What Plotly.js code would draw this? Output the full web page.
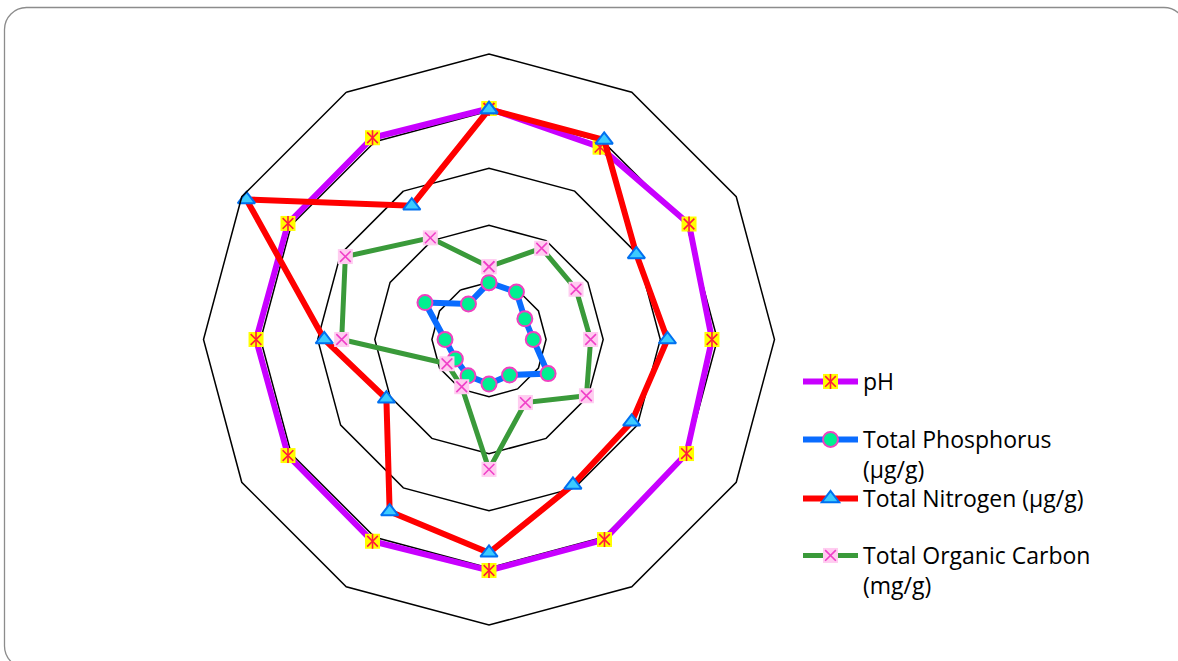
<!DOCTYPE html>
<html>
<head>
<meta charset="utf-8">
<script src="https://cdn.plot.ly/plotly-3.0.1.min.js"></script>
<style>
  html, body { margin: 0; padding: 0; background: #fff; }
  #chart { width: 1178px; height: 661px; }
</style>
</head>
<body>
<div id="chart"></div>
<script>
// ---- data (radial scale 0-10) ----
const categories = ['1','2','3','4','5','6','7','8','9','10','11','12'];
const seriesNames = ['pH', 'Total Phosphorus<br>(µg/g)', 'Total Nitrogen (µg/g)', 'Total Organic Carbon<br>(mg/g)'];
const pH          = [8.09, 7.78, 8.09, 7.81, 7.99, 8.09, 8.09, 8.16, 8.13, 8.16, 8.13, 8.16];
const phosphorus  = [1.99, 1.92, 1.45, 1.55, 2.39, 1.44, 1.56, 1.47, 1.36, 1.54, 2.59, 1.44];
const nitrogen    = [8.06, 8.07, 5.96, 6.25, 5.77, 5.88, 7.47, 6.96, 4.15, 5.77, 9.81, 5.41];
const organicC    = [2.55, 3.69, 3.52, 3.56, 3.94, 2.55, 4.55, 1.91, 1.70, 5.16, 5.81, 4.11];
const gridValues  = [0, 2, 4, 6, 8, 10];

const close = a => a.concat([a[0]]);
const theta = close(categories);

const W = 1178, H = 661, MT = 54, MB = 36;
const PH = H - MT - MB;
const px = x => x / W;
const py = y => (H - MB - y) / PH;

const traces = [
  {
    type: 'scatterpolar', mode: 'lines+markers', name: seriesNames[0], legend: 'legend',
    r: close(pH), theta: theta,
    line: { color: '#C800FF', width: 6 },
    marker: { symbol: 'square', size: 15, color: '#FFFF00', line: { width: 0 } }
  },
  {
    type: 'scatterpolar', mode: 'markers', name: seriesNames[0], legend: 'legend5', hoverinfo: 'skip',
    r: close(pH), theta: theta,
    marker: { symbol: 'x-thin-open', size: 10.7, color: '#FF1A3C', line: { color: '#FF1A3C', width: 1.6 } }
  },
  {
    type: 'scatterpolar', mode: 'markers', name: seriesNames[0], legend: 'legend6', hoverinfo: 'skip',
    r: close(pH), theta: theta,
    marker: { symbol: 'line-ns-open', size: 10.7, color: '#FF1A3C', line: { color: '#FF1A3C', width: 1.6 } }
  },
  {
    type: 'scatterpolar', mode: 'lines+markers', name: seriesNames[1], legend: 'legend2',
    r: close(phosphorus), theta: theta,
    line: { color: '#0A6CFF', width: 6 },
    marker: { symbol: 'circle', size: 15, color: '#00F090', line: { color: '#F040C0', width: 2 } }
  },
  {
    type: 'scatterpolar', mode: 'lines+markers', name: seriesNames[2], legend: 'legend3',
    r: close(nitrogen), theta: theta,
    line: { color: '#FF0000', width: 6 },
    marker: { symbol: 'triangle-up', size: 15, color: '#3CCBFF', line: { color: '#0070F0', width: 2 } }
  },
  {
    type: 'scatterpolar', mode: 'lines+markers', name: seriesNames[3], legend: 'legend4',
    r: close(organicC), theta: theta,
    line: { color: '#3A9A3A', width: 5 },
    marker: { symbol: 'square', size: 15, color: '#FFCCF0', line: { width: 0 } }
  },
  {
    type: 'scatterpolar', mode: 'markers', name: seriesNames[3], legend: 'legend7', hoverinfo: 'skip',
    r: close(organicC), theta: theta,
    marker: { symbol: 'x-thin-open', size: 10.7, color: '#F040C8', line: { color: '#F040C8', width: 1.6 } }
  }
];

// rounded frame
const fx0 = 4.5, fy0 = 7.5, fx1 = 1186, fy1 = 668, rr = 22, k = rr * 0.45;
const pt = (x, y) => px(x) + ',' + py(y);
const framePath =
  'M' + pt(fx0 + rr, fy0) + ' L' + pt(fx1 - rr, fy0) +
  ' C' + pt(fx1 - k, fy0) + ' ' + pt(fx1, fy0 + k) + ' ' + pt(fx1, fy0 + rr) +
  ' L' + pt(fx1, fy1 - rr) +
  ' C' + pt(fx1, fy1 - k) + ' ' + pt(fx1 - k, fy1) + ' ' + pt(fx1 - rr, fy1) +
  ' L' + pt(fx0 + rr, fy1) +
  ' C' + pt(fx0 + k, fy1) + ' ' + pt(fx0, fy1 - k) + ' ' + pt(fx0, fy1 - rr) +
  ' L' + pt(fx0, fy0 + rr) +
  ' C' + pt(fx0, fy0 + k) + ' ' + pt(fx0 + k, fy0) + ' ' + pt(fx0 + rr, fy0) + ' Z';

const mkLegend = (textCenterY, hidden) => ({
  x: px(798), xanchor: 'left', y: py(textCenterY - 20), yanchor: 'top',
  bgcolor: 'rgba(0,0,0,0)', borderwidth: 0, valign: 'top', itemwidth: 55,
  font: { family: 'Open Sans, sans-serif', size: 23, color: hidden ? 'rgba(0,0,0,0)' : '#000' }
});

const layout = {
  width: W, height: H,
  margin: { l: 0, r: 0, t: MT, b: MB, pad: 0 },
  paper_bgcolor: '#fff',
  showlegend: true,
  legend: mkLegend(380),
  legend2: mkLegend(438),
  legend3: mkLegend(497),
  legend4: mkLegend(554),
  legend5: mkLegend(380, true),
  legend6: mkLegend(380, true),
  legend7: mkLegend(554, true),
  polar: {
    domain: { x: [px(489 - PH / 2), px(489 + PH / 2)], y: [0, 1] },
    bgcolor: 'rgba(0,0,0,0)',
    gridshape: 'linear',
    radialaxis: {
      range: [0, 10], tickvals: gridValues, showticklabels: false, ticks: '',
      showline: false, gridcolor: '#000', gridwidth: 1.5
    },
    angularaxis: {
      type: 'category', categoryarray: categories, rotation: 90, direction: 'clockwise',
      showticklabels: false, ticks: '', showgrid: false,
      showline: true, linecolor: '#000', linewidth: 1.5
    }
  },
  shapes: [{
    type: 'path', xref: 'paper', yref: 'paper', path: framePath,
    line: { color: '#8C8C8C', width: 1.3 }, layer: 'below'
  }]
};

Plotly.newPlot('chart', traces, layout, { displayModeBar: false, staticPlot: true });
</script>
</body>
</html>
